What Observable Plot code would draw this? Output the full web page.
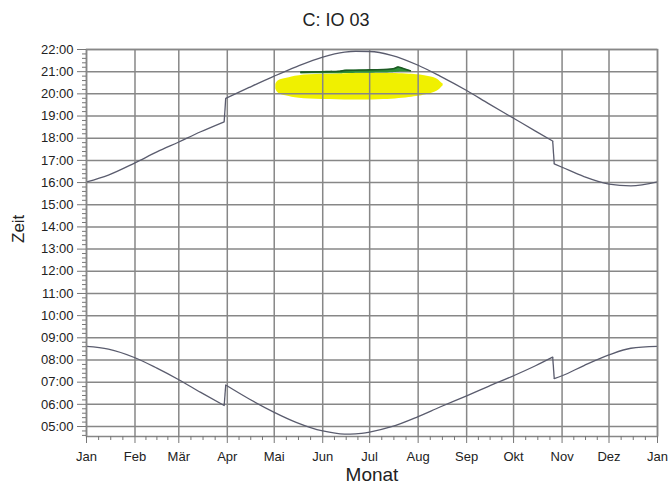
<!DOCTYPE html>
<html><head><meta charset="utf-8">
<script src="https://cdn.jsdelivr.net/npm/d3@7"></script>
<script src="https://cdn.jsdelivr.net/npm/@observablehq/plot@0.6"></script>
<style>
body{margin:0;background:#fff;font-family:"Liberation Sans",Arial,sans-serif;}
#wrap{position:relative;width:672px;height:491px;}
#title{position:absolute;left:0;top:10px;width:672px;text-align:center;font-size:18px;color:#222;line-height:21px;}
#wrap svg{position:absolute;left:0;top:0;}
</style></head><body><div id="wrap"><div id="title">C: IO 03</div></div>
<script>
// Month tick labels
const monthLabels = ["Jan","Feb","Mär","Apr","Mai","Jun","Jul","Aug","Sep","Okt","Nov","Dez"];
const monthStarts = ["2019-01-01","2019-02-01","2019-03-01","2019-04-01","2019-05-01","2019-06-01","2019-07-01","2019-08-01","2019-09-01","2019-10-01","2019-11-01","2019-12-01","2020-01-01"];
const hourTicks = [5,6,7,8,9,10,11,12,13,14,15,16,17,18,19,20,21,22];

// Sunrise / sunset (local clock time, decimal hours)
const sunDates = ["2019-01-01","2019-01-15","2019-02-01","2019-02-15","2019-03-01","2019-03-15","2019-03-30","2019-03-31","2019-04-15","2019-05-01","2019-05-15","2019-06-01","2019-06-15","2019-06-22","2019-07-01","2019-07-15","2019-08-01","2019-08-15","2019-09-01","2019-09-15","2019-10-01","2019-10-15","2019-10-26","2019-10-27","2019-11-01","2019-11-15","2019-12-01","2019-12-15","2020-01-01"];
const sunsetHours  = [16.03,16.34,16.89,17.38,17.83,18.29,18.74,19.80,20.29,20.80,21.22,21.66,21.88,21.92,21.91,21.74,21.29,20.80,20.15,19.56,18.90,18.32,17.87,16.84,16.69,16.27,15.93,15.85,16.03];
const sunriseHours = [8.61,8.49,8.10,7.63,7.11,6.54,5.95,6.87,6.24,5.64,5.19,4.80,4.66,4.67,4.75,4.99,5.45,5.88,6.38,6.81,7.29,7.74,8.13,7.16,7.29,7.75,8.23,8.53,8.61];
// clock-change days (last day of each time regime)
const clockChanges = ["2019-03-30","2019-10-26"];

// Shadow period, turbine 1 (yellow)
const yellowDates = ["2019-05-02","2019-05-04","2019-05-09","2019-05-17","2019-06-01","2019-06-20","2019-07-10","2019-07-28","2019-08-06","2019-08-12","2019-08-15","2019-08-17"];
const yellowStart = [20.22,20.02,19.90,19.80,19.74,19.72,19.74,19.85,19.96,20.08,20.22,20.36];
const yellowEnd   = [20.42,20.60,20.70,20.82,20.88,20.92,20.93,20.88,20.80,20.70,20.56,20.44];

// Shadow period, turbine 2 (green)
const greenDates = ["2019-05-18","2019-06-01","2019-06-12","2019-06-16","2019-07-01","2019-07-15","2019-07-19","2019-07-22","2019-07-27"];
const greenStart = [20.90,20.91,20.91,20.92,20.93,20.95,20.97,20.98,21.00];
const greenEnd   = [20.98,21.00,21.02,21.06,21.08,21.12,21.21,21.15,21.04];

const D = s => new Date(s + "T00:00:00Z");
const monthDates = monthStarts.map(D);
const changeDates = clockChanges.map(D);
const sunRows = sunDates.map((d,i)=>{
  const date = D(d);
  const seg = changeDates.filter(c => date > c).length;
  return {date, rise: sunriseHours[i], set: sunsetHours[i], seg};
});
// jumps at clock change: connect last point of one regime to first of the next
const jumps = [];
for (let i = 0; i < sunRows.length - 1; i++) {
  if (sunRows[i].seg !== sunRows[i+1].seg) jumps.push({a: sunRows[i], b: sunRows[i+1]});
}
const yellowRows = yellowDates.map((d,i)=>({date:D(d), lo:yellowStart[i], hi:yellowEnd[i]}));
const greenRows = greenDates.map((d,i)=>({date:D(d), lo:greenStart[i], hi:greenEnd[i]}));

const minorX = [];
for (let i = 0; i < monthDates.length - 1; i++) {
  const a = +monthDates[i], b = +monthDates[i+1];
  for (let k = 1; k < 4; k++) minorX.push(new Date(a + (b - a) * k / 4));
}
const minorY = d3.range(4.6, 22.0001, 0.2).filter(v => Math.abs(v - Math.round(v)) > 1e-6);
const fmtH = h => String(h).padStart(2, "0") + ":00";
const gridC = "#878787";
const curveC = "#5a5c6e";

const chart = Plot.plot({
  width: 672, height: 491,
  marginLeft: 86, marginRight: 15, marginTop: 49, marginBottom: 55,
  style: {fontFamily: "'Liberation Sans', Arial, sans-serif", fontSize: "13px", color: "#222", background: "transparent", overflow: "visible"},
  x: {type: "utc", domain: [monthDates[0], monthDates[12]], label: null},
  y: {domain: [4.55, 22], label: null},
  marks: [
    Plot.areaY(yellowRows, {x: "date", y1: "lo", y2: "hi", fill: "#f0f000", curve: "natural"}),
    Plot.gridY({ticks: hourTicks, stroke: gridC, strokeWidth: 1.5, strokeOpacity: 1}),
    Plot.gridX({ticks: monthDates, stroke: gridC, strokeWidth: 1.5, strokeOpacity: 1}),
    Plot.areaY(greenRows, {x: "date", y1: "lo", y2: "hi", fill: "#2f8f3a", curve: "natural"}),
    Plot.lineY(greenRows, {x: "date", y: "hi", stroke: "#1d5a24", strokeWidth: 1.6, curve: "natural"}),
    Plot.line(sunRows, {x: "date", y: "set", z: "seg", stroke: curveC, strokeWidth: 1.3, curve: "monotone-x"}),
    Plot.line(sunRows, {x: "date", y: "rise", z: "seg", stroke: curveC, strokeWidth: 1.3, curve: "monotone-x"}),
    Plot.link(jumps, {x1: d => d.a.date, y1: d => d.a.set, x2: d => d.b.date, y2: d => d.b.set, stroke: curveC, strokeWidth: 1.3}),
    Plot.link(jumps, {x1: d => d.a.date, y1: d => d.a.rise, x2: d => d.b.date, y2: d => d.b.rise, stroke: curveC, strokeWidth: 1.3}),
    Plot.frame({stroke: gridC, strokeWidth: 1.5}),
    Plot.axisY({ticks: hourTicks, tickSize: 9, tickPadding: 4, tickFormat: fmtH, stroke: "#777", label: null}),
    Plot.axisY({ticks: minorY, tickSize: 4, tickFormat: () => "", stroke: "#777", label: null}),
    Plot.axisX({ticks: monthDates, tickSize: 7, tickPadding: 8, tickFormat: d => monthLabels[d.getUTCMonth()], stroke: "#777", label: null}),
    Plot.axisX({ticks: minorX, tickSize: 4, tickFormat: () => "", stroke: "#777", label: null}),
    Plot.text(["Zeit"], {text: d => d, frameAnchor: "left", dx: -68, rotate: -90, fontSize: 17, fill: "#222"}),
    Plot.text(["Monat"], {text: d => d, frameAnchor: "bottom", dy: 44, fontSize: 19, fill: "#222"})
  ]
});
document.getElementById("wrap").appendChild(chart);
</script>
</body></html>
